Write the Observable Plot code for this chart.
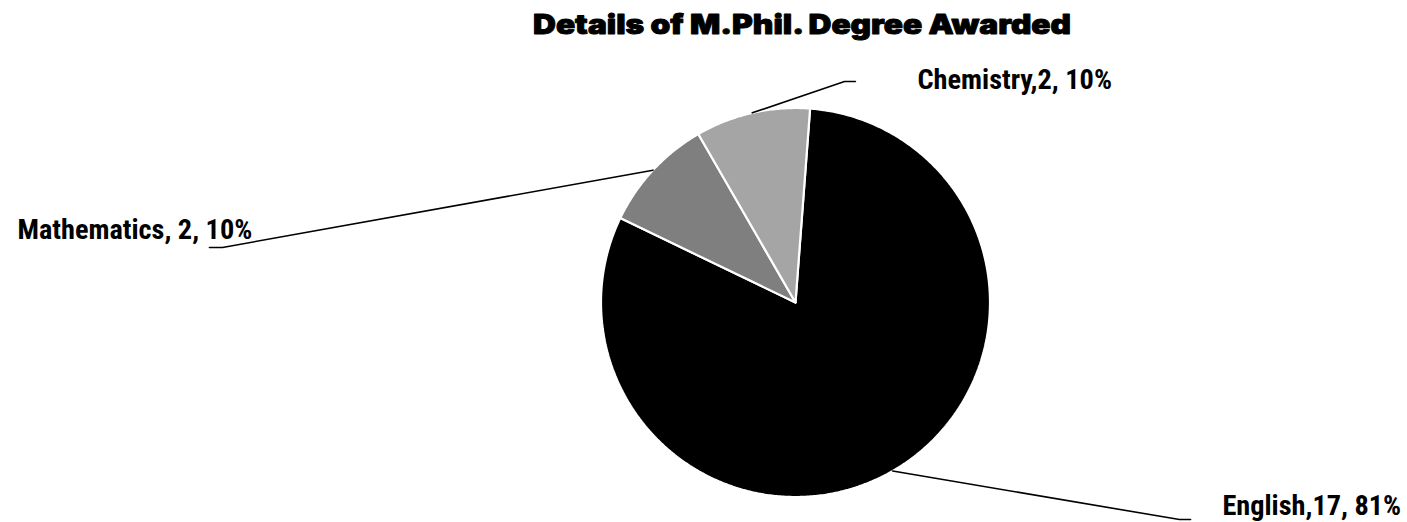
<!DOCTYPE html>
<html>
<head>
<meta charset="utf-8">
<script src="https://cdn.jsdelivr.net/npm/d3@7"></script>
<script src="https://cdn.jsdelivr.net/npm/@observablehq/plot@0.6"></script>
<style>
  html, body { margin: 0; padding: 0; background: #ffffff; }
  #chart svg { display: block; }
</style>
</head>
<body>
<div id="chart"></div>
<script>
// ---- data ----
const title = "Details of M.Phil. Degree Awarded";
const categories = ["English", "Mathematics", "Chemistry"];
const values = [17, 2, 2];
const labelTexts = ["English,17, 81%", "Mathematics, 2, 10%", "Chemistry,2, 10%"];
const sliceColors = ["#000000", "#7f7f7f", "#a5a5a5"];

// ---- layout (radius units, pie centre at 0,0) ----
const W = 1407, H = 522, R = 194.5, CX = 795, CY = 302;
const firstSliceAngle = 4.3; // degrees, clockwise from 12 o'clock
const leaderElbow = [[1.974, -1.116], [-2.946, 0.283], [0.252, 1.136]];
const leaderEnd   = [[2.031, -1.116], [-3.013, 0.283], [0.308, 1.136]];
const labelAt     = [[2.195, -1.095], [-4.0, 0.329], [0.627, 1.100]];
const titleWidth = 538;

const a0 = firstSliceAngle * Math.PI / 180;
const arcs = d3.pie().sort(null).startAngle(a0).endAngle(a0 + 2 * Math.PI)(values);

// slice polygons
const slicePts = [];
arcs.forEach((d, i) => {
  const cat = categories[i];
  slicePts.push({cat, x: 0, y: 0});
  const n = Math.max(8, Math.ceil((d.endAngle - d.startAngle) / (Math.PI / 360)));
  for (let k = 0; k <= n; k++) {
    const t = d.startAngle + (d.endAngle - d.startAngle) * k / n;
    slicePts.push({cat, x: Math.sin(t), y: Math.cos(t)});
  }
  slicePts.push({cat, x: 0, y: 0});
});

// leader lines
const leaderPts = [];
arcs.forEach((d, i) => {
  const m = (d.startAngle + d.endAngle) / 2;
  const cat = categories[i];
  leaderPts.push({cat, x: Math.sin(m), y: Math.cos(m)});
  leaderPts.push({cat, x: leaderElbow[i][0], y: leaderElbow[i][1]});
  leaderPts.push({cat, x: leaderEnd[i][0], y: leaderEnd[i][1]});
});

const labelData = categories.map((c, i) => ({cat: c, text: labelTexts[i], x: labelAt[i][0], y: labelAt[i][1]}));

const labelFont = "'Liberation Sans Narrow', 'Arial Narrow', 'Roboto Condensed', 'DejaVu Sans Condensed', sans-serif";

const chart = Plot.plot({
  width: W,
  height: H,
  margin: 0,
  style: {background: "#ffffff", overflow: "visible"},
  x: {domain: [-CX / R, (W - CX) / R], range: [0, W], axis: null},
  y: {domain: [-(H - CY) / R, CY / R], range: [H, 0], axis: null},
  color: {domain: categories, range: sliceColors},
  marks: [
    Plot.line(slicePts, {x: "x", y: "y", z: "cat", fill: "cat", stroke: "#ffffff", strokeWidth: 2.2, curve: "linear", strokeLinejoin: "miter"}),
    Plot.line(leaderPts, {x: "x", y: "y", z: "cat", stroke: "#000000", strokeWidth: 1.6, curve: "linear"}),
    Plot.text(labelData, {x: "x", y: "y", text: "text", textAnchor: "start", lineAnchor: "bottom", fontSize: 28.3, fontWeight: "bold", fontFamily: labelFont, fill: "#000000"}),
    Plot.text([title], {frameAnchor: "top", dx: 98, dy: 33, lineAnchor: "bottom", text: d => d, fontSize: 27, fontWeight: 900, fontFamily: "Inter, 'DejaVu Sans', sans-serif", fill: "#000000", stroke: "#000000", strokeWidth: 0.9, className: "chart-title"})
  ]
});
const titleText = chart.querySelector(".chart-title text");
if (titleText) {
  titleText.setAttribute("textLength", titleWidth);
  titleText.setAttribute("lengthAdjust", "spacingAndGlyphs");
}
document.getElementById("chart").appendChild(chart);
</script>
</body>
</html>
